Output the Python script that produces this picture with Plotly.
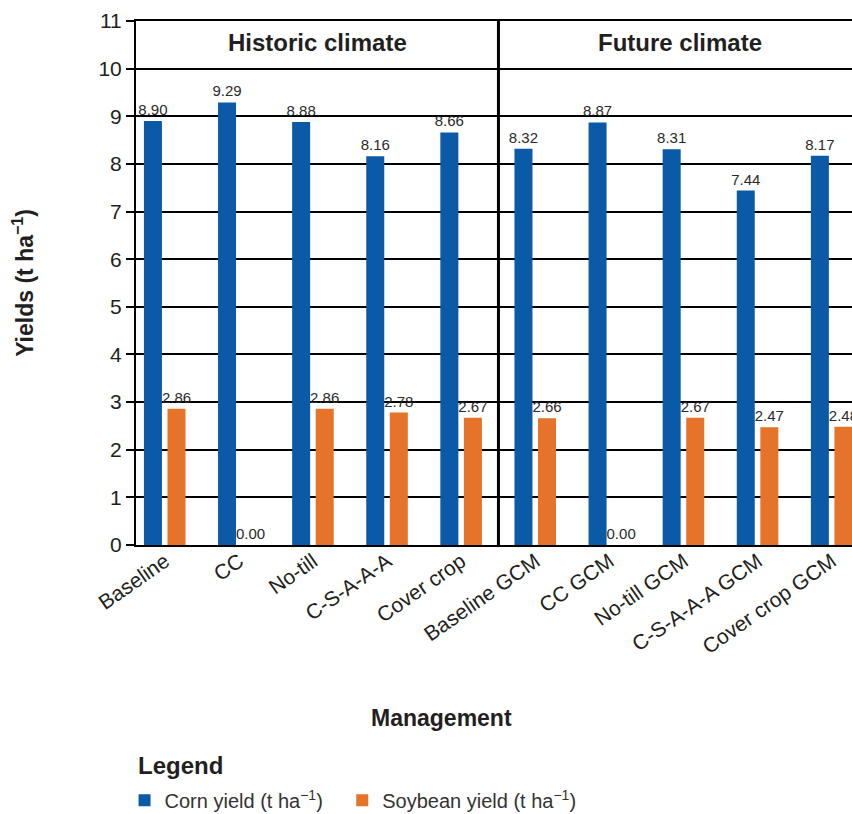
import plotly.graph_objects as go

# Management scenarios on the x axis
categories = ["Baseline", "CC", "No-till", "C-S-A-A-A", "Cover crop",
              "Baseline GCM", "CC GCM", "No-till GCM", "C-S-A-A-A GCM", "Cover crop GCM"]

# Yields in t/ha
corn_yield = [8.90, 9.29, 8.88, 8.16, 8.66, 8.32, 8.87, 8.31, 7.44, 8.17]
soybean_yield = [2.86, 0.00, 2.86, 2.78, 2.67, 2.66, 0.00, 2.67, 2.47, 2.48]

y_ticks = list(range(0, 12))

BLUE = "#0B5AA8"
ORANGE = "#E6732A"
INK = "#231F20"
BASE_FONT = "Liberation Sans, Arial, sans-serif"
NARROW_FONT = "Liberation Sans Narrow, Arial Narrow, Liberation Sans, sans-serif"

x = list(range(len(categories)))
bar_w = 0.243

fig = go.Figure()
fig.add_trace(go.Bar(
    x=x, y=corn_yield, name="Corn yield (t ha<sup>−1</sup>)",
    marker=dict(color=BLUE, line=dict(width=0)),
    width=bar_w, offset=-0.284,
    text=[f"{v:.2f}" for v in corn_yield], textposition="outside",
    constraintext="none",
    textfont=dict(family=NARROW_FONT, size=15, color="#2a2a2a"),
    cliponaxis=False, legend="legend",
))
fig.add_trace(go.Bar(
    x=x, y=soybean_yield, name="Soybean yield (t ha<sup>−1</sup>)",
    marker=dict(color=ORANGE, line=dict(width=0)),
    width=bar_w, offset=0.034,
    text=[f"{v:.2f}" for v in soybean_yield], textposition="outside",
    constraintext="none",
    textfont=dict(family=NARROW_FONT, size=15, color="#2a2a2a"),
    cliponaxis=False, legend="legend2",
))

# Divider between historic and future scenarios
fig.add_shape(type="line", xref="x", yref="y", x0=4.5, x1=4.5, y0=0, y1=11,
              line=dict(color="black", width=3), layer="above")

# Panel headers
for label, xc in [("Historic climate", 2.055), ("Future climate", 6.945)]:
    fig.add_annotation(x=xc, y=10.5, xref="x", yref="y", text=f"<b>{label}</b>",
                       showarrow=False, xanchor="center", yanchor="middle",
                       yshift=2,
                       font=dict(family=BASE_FONT, size=24, color=INK))

# Axis titles
fig.add_annotation(x=-0.158, y=0.5, xref="paper", yref="paper", textangle=-90,
                   text="<b>Yields (t ha<sup>−1</sup>)</b>", showarrow=False,
                   xanchor="center", yanchor="middle",
                   font=dict(family=BASE_FONT, size=23, color=INK))
fig.add_annotation(x=0.426, y=-0.330, xref="paper", yref="paper",
                   text="<b>Management</b>", showarrow=False,
                   xanchor="center", yanchor="middle",
                   font=dict(family=BASE_FONT, size=23, color=INK))

# Legend heading
fig.add_annotation(x=0.0, y=-0.420, xref="paper", yref="paper",
                   text="<b>Legend</b>", showarrow=False,
                   xanchor="left", yanchor="middle",
                   font=dict(family=BASE_FONT, size=24, color=INK))

legend_common = dict(
    orientation="h", xanchor="left", y=-0.450, yanchor="top",
    font=dict(family=BASE_FONT, size=20, color="#333333"),
    bgcolor="rgba(0,0,0,0)",
)

fig.update_layout(
    width=852, height=814,
    margin=dict(l=136, r=0, t=21, b=269, autoexpand=False),
    plot_bgcolor="white", paper_bgcolor="white",
    barmode="overlay",
    showlegend=True,
    legend=dict(x=-0.016, **legend_common),
    legend2=dict(x=0.288, **legend_common),
    xaxis=dict(
        tickmode="array", tickvals=x, ticktext=categories, tickangle=-35,
        range=[-0.391, 9.271],
        tickfont=dict(family=BASE_FONT, size=21, color=INK),
        ticklabelstandoff=-6,
        showgrid=False, zeroline=False,
        showline=True, linecolor="black", linewidth=2, mirror=True,
        ticks="",
    ),
    yaxis=dict(
        range=[0, 11], tickmode="array", tickvals=y_ticks,
        tickfont=dict(family=BASE_FONT, size=21, color=INK),
        showgrid=True, gridcolor="black", gridwidth=2,
        zeroline=False, showline=True, linecolor="black", linewidth=2,
        ticks="outside", ticklen=8, tickwidth=2, tickcolor="black",
    ),
)

fig.write_html("out.html")
